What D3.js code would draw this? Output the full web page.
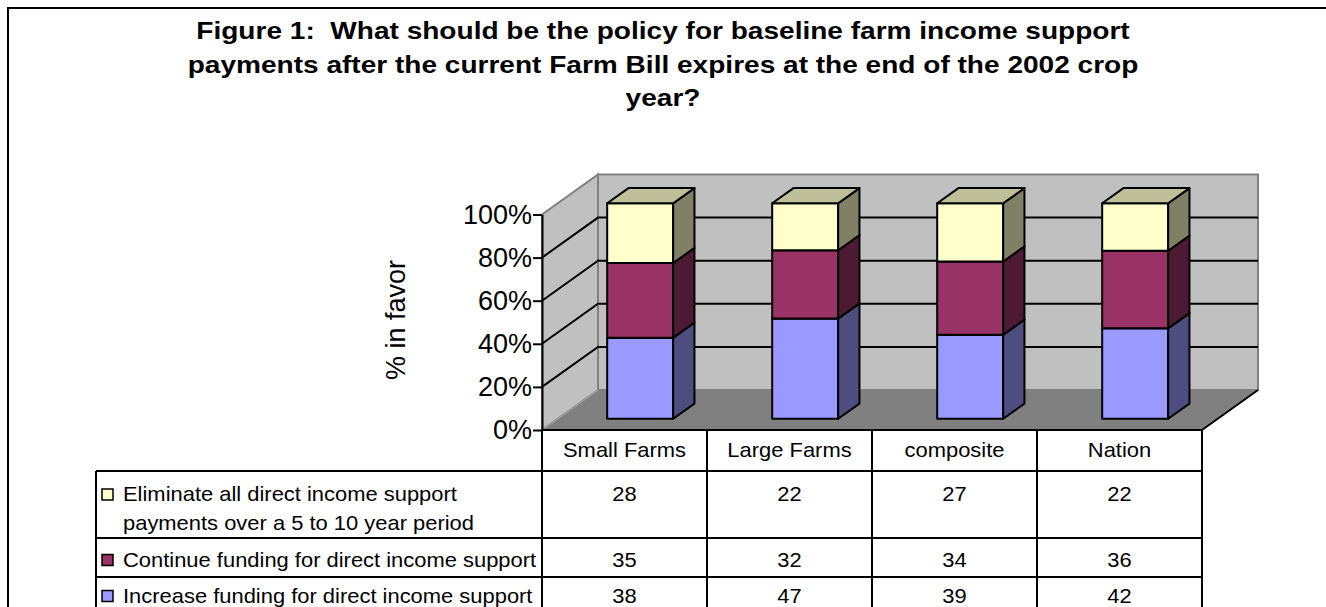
<!DOCTYPE html>
<html>
<head>
<meta charset="utf-8">
<script src="https://cdn.jsdelivr.net/npm/d3@7"></script>
<style>
  html, body { margin: 0; padding: 0; background: #fff; }
  svg { display: block; font-family: "Liberation Sans", Arial, sans-serif; }
  text { white-space: pre; }
</style>
</head>
<body>
<svg id="chart" width="1326" height="607"></svg>
<script>
// Survey results: share of respondents favouring each option, by group
const categories = ["Small Farms", "Large Farms", "composite", "Nation"];
const increaseValues  = [38, 47, 39, 42];
const continueValues  = [35, 32, 34, 36];
const eliminateValues = [28, 22, 27, 22];
const yTicks = [0, 0.2, 0.4, 0.6, 0.8, 1.0];
const titleLines = [
  "Figure 1:  What should be the policy for baseline farm income support",
  "payments after the current Farm Bill expires at the end of the 2002 crop",
  "year?"
];
const legendLabels = {
  elim: ["Eliminate all direct income support", "payments over a 5 to 10 year period"],
  cont: ["Continue funding for direct income support"],
  inc:  ["Increase funding for direct income support"]
};

const rows = categories.map((c, i) => ({
  category: c,
  inc: increaseValues[i],
  cont: continueValues[i],
  elim: eliminateValues[i]
}));
const keys = ["inc", "cont", "elim"];
const fronts = { inc: "#9999ff", cont: "#993366", elim: "#ffffcc" };

const svg = d3.select("#chart");

// outer frame
svg.append("rect")
  .attr("x", 8).attr("y", 8).attr("width", 1340).attr("height", 640)
  .attr("fill", "#fff").attr("stroke", "#000").attr("stroke-width", 2);

// text helper: slightly widened glyphs
function label(parent, x, y, str, opts = {}) {
  const sx = opts.sx || 1;
  return parent.append("text")
    .attr("transform", `translate(${x},${y}) scale(${sx},1)`)
    .attr("text-anchor", opts.anchor || "start")
    .attr("font-size", opts.size || 20)
    .attr("font-weight", opts.weight || "normal")
    .attr("fill", "#000")
    .text(str);
}

// title
const tg = svg.append("g");
titleLines.forEach((ln, i) => label(tg, 663, 39 + i * 33.5, ln,
  { anchor: "middle", size: 23, weight: "bold", sx: 1.22 }));

// plot frame
const x0 = 542, x1 = 1202;
const depthX = 56, depthY = 40;
const y = d3.scaleLinear().domain([0, 1]).range([430, 214.5]);
const x = d3.scaleBand().domain(categories).range([x0, x1])
  .paddingInner(0.6).paddingOuter(0.3);
const col = d3.scaleBand().domain(categories).range([x0, x1]).padding(0);

// projection of (front-plane x, value, depth fraction)
const P = (px, v, f) => [px + f * depthX, y(v) - f * depthY];
const poly = pts => "M" + pts.map(p => p.join(",")).join("L") + "Z";

const walls = svg.append("g");
// side wall
walls.append("path")
  .attr("d", poly([P(x0, 0, 0), P(x0, 1, 0), P(x0, 1, 1), P(x0, 0, 1)]))
  .attr("fill", "#c0c0c0").attr("stroke", "#808080").attr("stroke-width", 2);
// back wall
walls.append("path")
  .attr("d", poly([P(x0, 0, 1), P(x0, 1, 1), P(x1, 1, 1), P(x1, 0, 1)]))
  .attr("fill", "#c0c0c0").attr("stroke", "#808080").attr("stroke-width", 2);

// gridlines across both walls
const gridVals = yTicks.filter(v => v > 0 && v < 1);
walls.selectAll("path.grid").data(gridVals).join("path")
  .attr("class", "grid")
  .attr("d", v => "M" + P(x0, v, 0) + "L" + P(x0, v, 1) + "L" + P(x1, v, 1))
  .attr("fill", "none").attr("stroke", "#000").attr("stroke-width", 2);

// floor
walls.append("path")
  .attr("d", poly([P(x0, 0, 0), P(x0, 0, 1), P(x1, 0, 1), P(x1, 0, 0)]))
  .attr("fill", "#808080").attr("stroke", "none");
walls.append("path")
  .attr("d", "M" + P(x0, 0, 0) + "L" + P(x0, 0, 1))
  .attr("stroke", "#a0a0a0").attr("stroke-width", 1.5);
walls.append("path")
  .attr("d", "M" + P(x1, 0, 0) + "L" + P(x1, 0, 1))
  .attr("stroke", "#000").attr("stroke-width", 2);

// 100% stacked columns
const stacked = d3.stack().keys(keys).offset(d3.stackOffsetExpand)(rows);
const f0 = 0.28, f1 = 0.66;
const shade = (c, k) => { const o = d3.rgb(c); return d3.rgb(o.r * k, o.g * k, o.b * k).formatHex(); };

const bars = svg.append("g");
categories.forEach((cat, i) => {
  const xl = x(cat), xr = x(cat) + x.bandwidth();
  stacked.forEach(layer => {
    const [v0, v1] = layer[i];
    const c = fronts[layer.key];
    const g = bars.append("g")
      .attr("stroke", "#000").attr("stroke-width", 2).attr("stroke-linejoin", "round");
    g.append("path").attr("fill", c)
      .attr("d", poly([P(xl, v0, f0), P(xl, v1, f0), P(xr, v1, f0), P(xr, v0, f0)]));
    g.append("path").attr("fill", shade(c, 0.5))
      .attr("d", poly([P(xr, v0, f0), P(xr, v1, f0), P(xr, v1, f1), P(xr, v0, f1)]));
    g.append("path").attr("fill", shade(c, 0.75))
      .attr("d", poly([P(xl, v1, f0), P(xl, v1, f1), P(xr, v1, f1), P(xr, v1, f0)]));
  });
});

// value axis
const yAxis = d3.axisLeft(y).tickValues(yTicks).tickFormat(d3.format(".0%"))
  .tickSize(9).tickSizeOuter(0).tickPadding(1);
const ag = svg.append("g").attr("transform", `translate(${x0},0)`).call(yAxis);
ag.select(".domain").attr("stroke", "#000").attr("stroke-width", 2);
ag.selectAll(".tick line").attr("stroke", "#000").attr("stroke-width", 2);
ag.selectAll(".tick text").attr("font-size", 27).attr("fill", "#000")
  .attr("font-family", "Liberation Sans, Arial, sans-serif");

svg.append("text")
  .attr("transform", "translate(405,320) rotate(-90)")
  .attr("text-anchor", "middle").attr("font-size", 27)
  .text("% in favor");

// data table
const tbl = svg.append("g").attr("stroke", "#000").attr("stroke-width", 2);
const rowLines = [471, 538, 577];
const tableLeft = 96, tableBottom = 640;
tbl.append("line").attr("x1", x0).attr("x2", x1).attr("y1", 430).attr("y2", 430);
rowLines.forEach(yy => {
  tbl.append("line").attr("x1", tableLeft).attr("x2", x1).attr("y1", yy).attr("y2", yy);
});
tbl.append("line").attr("x1", tableLeft).attr("x2", tableLeft).attr("y1", 471).attr("y2", tableBottom);
categories.forEach(c => {
  tbl.append("line").attr("x1", col(c)).attr("x2", col(c)).attr("y1", 430).attr("y2", tableBottom);
});
tbl.append("line").attr("x1", x1).attr("x2", x1).attr("y1", 430).attr("y2", tableBottom);

const tx = svg.append("g");
const cellText = { size: 20.5, sx: 1.07 };
categories.forEach(c => label(tx, col(c) + col.bandwidth() / 2, 457, c,
  Object.assign({ anchor: "middle" }, cellText)));

// table rows: top series first
const tableRows = [
  { key: "elim", vals: eliminateValues, base: 501 },
  { key: "cont", vals: continueValues, base: 566.5 },
  { key: "inc",  vals: increaseValues, base: 602.5 }
];
tableRows.forEach(r => {
  svg.append("rect")
    .attr("x", 102).attr("y", r.base - 12).attr("width", 11).attr("height", 11)
    .attr("fill", fronts[r.key]).attr("stroke", "#000").attr("stroke-width", 1.5);
  legendLabels[r.key].forEach((ln, j) => label(tx, 123, r.base + j * 28.5, ln, cellText));
  r.vals.forEach((v, i) => label(tx, col(categories[i]) + col.bandwidth() / 2, r.base, v,
    Object.assign({ anchor: "middle" }, cellText)));
});
</script>
</body>
</html>
